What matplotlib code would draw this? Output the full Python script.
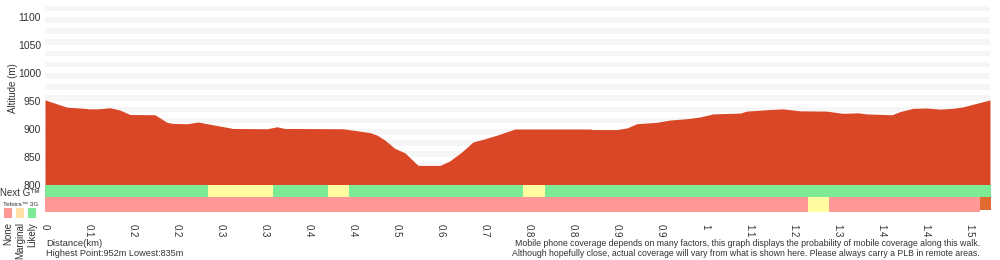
import matplotlib.pyplot as plt
import numpy as np

plt.rcParams['font.family'] = ['Liberation Sans', 'DejaVu Sans']

# elevation profile: position along track (tick units) and altitude (m)
prof_pos = [0, 0.23, 0.5, 0.8, 1.02, 1.2, 1.48, 1.7, 1.93, 2.5, 2.77, 2.91, 3.23, 3.48,
            3.82, 4.14, 4.27, 5.05, 5.27, 5.45, 6.77, 7.09, 7.39, 7.55, 7.73, 7.95, 8.18,
            8.48, 8.98, 9.2, 9.48, 9.73, 9.95, 10.27, 10.57, 10.68, 12.39, 12.45, 13.0,
            13.23, 13.45, 13.91, 14.2, 14.59, 14.89, 15.18, 15.8, 15.95, 16.41, 16.77,
            17.16, 17.77, 18.14, 18.48, 18.68, 19.25, 19.43, 19.73, 20.05, 20.34, 20.64,
            20.86, 21.18, 21.48]
prof_alt = [952, 946, 939, 937.5, 936, 936, 938, 934, 926, 925.5, 912, 910, 909.5, 912.5,
            907.5, 903, 901, 900.5, 904, 901, 900.5, 897, 893.5, 889, 880, 865.5, 857.5,
            835, 835, 843, 859.5, 877, 881.5, 889, 897, 900, 900, 899, 899,
            902, 909.5, 912, 916, 918.5, 921.5, 927, 928.5, 932, 934.5, 936,
            932.5, 932, 928, 929, 927, 925.5, 931, 937, 937.5, 935.5, 937,
            939.5, 946, 952]

tick_labels = ["0", "0.1", "0.2", "0.2", "0.3", "0.3", "0.4", "0.4", "0.5", "0.6", "0.7",
               "0.8", "0.8", "0.9", "0.9", "1", "1.1", "1.2", "1.3", "1.4", "1.4", "1.5"]

# coverage segments (start, end, level)
nextg_segs = [(0, 3.70, "likely"), (3.70, 5.18, "marginal"), (5.18, 6.43, "likely"),
              (6.43, 6.91, "marginal"), (6.91, 10.86, "likely"), (10.86, 11.36, "marginal"),
              (11.36, 21.5, "likely")]
telstra_segs = [(0, 17.34, "none"), (17.34, 17.82, "marginal"), (17.82, 21.25, "none")]
telstra_end = (21.25, 21.5)

colors = {"none": "#ff9896", "marginal": "#fffca2", "likely": "#7deb96"}
legend_colors = ["#ff9896", "#ffe2a8", "#7deb96"]
legend_names = ["None", "Marginal", "Likely"]

xmax = prof_pos[-1]
txt = "#333333"

fig = plt.figure(figsize=(10, 2.6), dpi=100)

# altitude panel
ax = fig.add_axes([0.045, 1 - 185 / 260, 0.945, 185 / 260])
ax.set_xlim(0, xmax)
ax.set_ylim(800, 1130.5)
for b in np.arange(810, 1140, 20):
    ax.axhspan(b, b + 10, color="#f6f6f6", lw=0, zorder=0)
ax.fill_between(prof_pos, 800, prof_alt, color="#d94727", lw=0, zorder=2)
ax.set_yticks([800, 850, 900, 950, 1000, 1050, 1100])
ax.tick_params(axis="y", length=0, labelsize=7.5, labelcolor=txt, pad=3)
ax.set_xticks([])
for s in ax.spines.values():
    s.set_visible(False)
fig.text(0.013, 1 - 88 / 260, "Altitude (m)", rotation=90, fontsize=7, color=txt,
         ha="center", va="center")

# coverage rows
cax = fig.add_axes([0.045, 1 - 212 / 260, 0.945, 27 / 260])
cax.set_xlim(0, xmax)
cax.set_ylim(0, 27)
for a, b, lvl in nextg_segs:
    cax.broken_barh([(a, b - a)], (15, 12), color=colors[lvl], lw=0)
for a, b, lvl in telstra_segs:
    cax.broken_barh([(a, b - a)], (0, 15), color=colors[lvl], lw=0)
cax.broken_barh([(telstra_end[0], telstra_end[1] - telstra_end[0])], (2, 12.5),
                color="#e06a30", lw=0)
cax.set_yticks([])
cax.set_xticks(range(len(tick_labels)))
cax.set_xticklabels(tick_labels, rotation=-90, fontsize=7, color=txt)
cax.tick_params(axis="x", length=0, pad=9)
for s in cax.spines.values():
    s.set_visible(False)

# left legend
fig.text(0.0, 1 - 193.5 / 260, "Next G\u2122", fontsize=7, color=txt, va="center", ha="left")
fig.text(0.003, 1 - 204.5 / 260, "Telstra\u2122 3G", fontsize=4.6, color=txt, va="center", ha="left")
for i, (c, name) in enumerate(zip(legend_colors, legend_names)):
    x0 = 4 + i * 12
    fig.patches.append(plt.Rectangle((x0 / 1000, 1 - 218 / 260), 8 / 1000, 10 / 260,
                                     transform=fig.transFigure, color=c, lw=0))
    fig.text((x0 + 4) / 1000, 1 - 222 / 260, name, rotation=90, fontsize=7,
             color=txt, ha="center", va="top")

# footer
fig.text(0.046, 1 - 243 / 260, "Distance(km)", fontsize=6.8, color=txt, va="center")
fig.text(0.046, 1 - 253 / 260, "Highest Point:952m Lowest:835m", fontsize=6.6, color=txt, va="center")
fig.text(0.98, 1 - 243 / 260,
         "Mobile phone coverage depends on many factors, this graph displays the probability of mobile coverage along this walk.",
         fontsize=6.35, color=txt, va="center", ha="right")
fig.text(0.98, 1 - 253 / 260,
         "Although hopefully close, actual coverage will vary from what is shown here. Please always carry a PLB in remote areas.",
         fontsize=6.35, color=txt, va="center", ha="right")

fig.savefig("out.png", dpi=100)
